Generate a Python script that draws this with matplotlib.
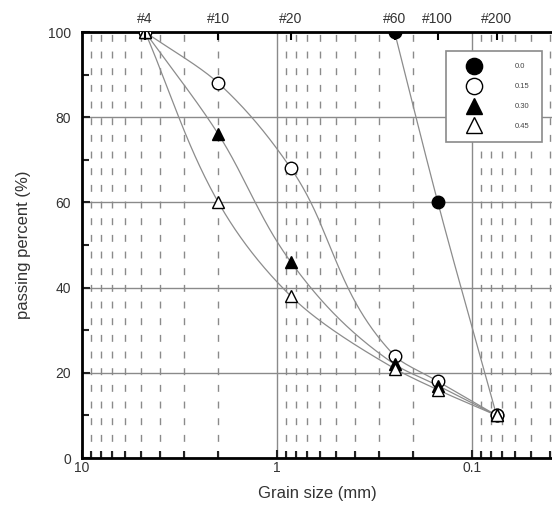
import numpy as np
import matplotlib.pyplot as plt
from matplotlib.ticker import NullFormatter, NullLocator, LogLocator

plt.rcParams['font.family'] = ['Liberation Sans', 'DejaVu Sans']

# sieve openings (mm) and their numbers
sieve_mm = [4.75, 2.0, 0.85, 0.25, 0.15, 0.075]
sieve_lbl = ['#4', '#10', '#20', '#60', '#100', '#200']

# passing percent for each mixture
size_a = [0.25, 0.15, 0.075]
pass_a = [100, 60, 10]
pass_b = [100, 88, 68, 24, 18, 10]
pass_c = [100, 76, 46, 22, 17, 10]
pass_d = [100, 60, 38, 21, 16, 10]
labels = ['0.0', '0.15', '0.30', '0.45']


def pchip(t, v, tt):
    # monotone cubic (Fritsch-Carlson) through the points
    t = np.asarray(t, float); v = np.asarray(v, float)
    h = np.diff(t)
    d = np.diff(v) / h
    n = len(t)
    m = np.zeros(n)
    for i in range(1, n-1):
        if d[i-1]*d[i] > 0:
            w1 = 2*h[i] + h[i-1]
            w2 = h[i] + 2*h[i-1]
            m[i] = (w1 + w2) / (w1/d[i-1] + w2/d[i])
    m[0] = d[0]
    m[-1] = d[-1]
    k = np.clip(np.searchsorted(t, tt) - 1, 0, n-2)
    s = (tt - t[k]) / h[k]
    h00 = 2*s**3 - 3*s**2 + 1
    h10 = s**3 - 2*s**2 + s
    h01 = -2*s**3 + 3*s**2
    h11 = s**3 - s**2
    return h00*v[k] + h10*h[k]*m[k] + h01*v[k+1] + h11*h[k]*m[k+1]


def curve(x, y):
    y = np.asarray(y, float)[::-1]
    lx = np.log10(x)[::-1]
    yy = np.linspace(y[0], y[-1], 300)
    return 10**pchip(y, lx, yy), yy


fig = plt.figure(figsize=(5.52, 5.09), dpi=100)
ax = fig.add_axes([82/552, 51/509, 470/552, 426/509])

series = [
    (size_a, pass_a, dict(marker='o', mfc='black', ms=9)),
    (sieve_mm, pass_b, dict(marker='o', mfc='white', ms=9)),
    (sieve_mm, pass_c, dict(marker='^', mfc='black', ms=9)),
    (sieve_mm, pass_d, dict(marker='^', mfc='white', ms=9)),
]
for (x, y, st), lab in zip(series, labels):
    cx, cy = curve(x, y)
    ax.plot(cx, cy, color='#8c8c8c', lw=0.9, zorder=3)
    ax.plot(x, y, ls='none', mec='black', mew=1.0, zorder=4, label=lab, **st)

ax.set_xscale('log')
ax.set_xlim(10, 0.039)
ax.set_ylim(0, 100)
ax.set_xticks([10, 1, 0.1])
ax.set_xticklabels(['10', '1', '0.1'])
ax.xaxis.set_minor_locator(LogLocator(base=10, subs=np.arange(2, 10)))
ax.xaxis.set_minor_formatter(NullFormatter())
ax.set_yticks([0, 20, 40, 60, 80, 100])
ax.set_yticks([10, 30, 50, 70, 90], minor=True)

ax.grid(True, which='major', color='#8a8a8a', lw=1.0, ls='-')
ax.grid(True, which='minor', axis='x', color='#8a8a8a', lw=1.0, ls=(0, (5, 7)))
ax.set_axisbelow(True)

ax.tick_params(which='both', direction='in', colors='#222222', labelcolor='#333333', labelsize=10)
ax.tick_params(which='major', length=6, width=1.5)
ax.tick_params(which='minor', length=5, width=1.5)
ax.tick_params(axis='y', pad=8)
ax.tick_params(axis='x', pad=2)
for s in ['left', 'bottom', 'top']:
    ax.spines[s].set_linewidth(2)
ax.spines['right'].set_visible(False)

ax.set_xlabel('Grain size (mm)', fontsize=12, color='#333333', labelpad=8)
ax.set_ylabel('passing percent (%)', fontsize=12, color='#333333', labelpad=12)

# sieve numbers along the top edge
top = ax.twiny()
top.set_xscale('log')
top.set_xlim(ax.get_xlim())
top.set_xticks(sieve_mm)
top.set_xticklabels(sieve_lbl)
top.xaxis.set_minor_locator(NullLocator())
top.tick_params(axis='x', direction='in', length=6, width=1.5, labelsize=10, labelcolor='#333333', pad=4)
for s in top.spines.values():
    s.set_visible(False)

leg = ax.legend(loc='upper left', bbox_to_anchor=(0.767, 0.965), fontsize=5.5, frameon=True,
                fancybox=False, edgecolor='#8a8a8a', framealpha=1, markerscale=1.3,
                borderpad=1.6, handlelength=4, handletextpad=3.4, labelspacing=1.65)
leg.get_frame().set_linewidth(1.2)
for t in leg.get_texts():
    t.set_color('#444444')
leg.set_zorder(5)

fig.savefig('out.png', dpi=100)
